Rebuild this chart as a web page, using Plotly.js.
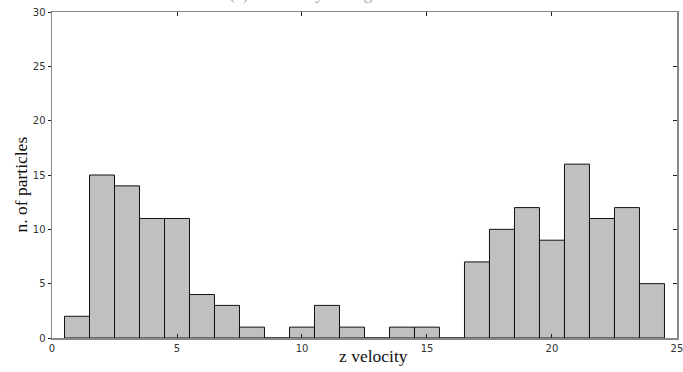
<!DOCTYPE html>
<html>
<head>
<meta charset="utf-8">
<script src="https://cdn.plot.ly/plotly-3.0.1.min.js"></script>
<style>html,body{margin:0;padding:0;background:#fff;}#chart{width:683px;height:372px;}</style>
</head>
<body>
<div id="chart"></div>
<script>
const binCenters = [1,2,3,4,5,6,7,8,9,10,11,12,13,14,15,16,17,18,19,20,21,22,23,24];
const counts     = [2,15,14,11,11,4,3,1,0,1,3,1,0,1,1,0,7,10,12,9,16,11,12,5];
const xTickVals = [0,5,10,15,20,25];
const yTickVals = [0,5,10,15,20,25,30];
const xTitle = "z velocity";
const yTitle = "n. of particles";
const chartTitle = "(a) z velocity histogram";

const trace = {
  type: 'bar', x: binCenters, y: counts, width: 1,
  marker: {color: '#c0c0c0', line: {color: '#111', width: 1}},
  hoverinfo: 'x+y'
};
const dummy = {type:'scatter', x:[0], y:[0], yaxis:'y2', mode:'markers', marker:{opacity:0}, hoverinfo:'skip', showlegend:false};

const tickFont = {family: 'DejaVu Sans', size: 10, color: '#333'};
const titleFont = {family: 'Liberation Serif', size: 17.5, color: '#111'};
const layout = {
  width: 683, height: 372,
  margin: {l: 52, r: 6, t: 12, b: 34},
  paper_bgcolor: '#fff', plot_bgcolor: '#fff',
  showlegend: false, bargap: 0,
  xaxis: {
    range: [0, 25.001], tickvals: xTickVals, ticktext: xTickVals.map(String),
    ticks: 'inside', ticklen: 4, tickcolor: '#222',
    showline: true, linecolor: '#888', linewidth: 1.5, mirror: 'ticks',
    showgrid: false, zeroline: false, tickfont: tickFont, ticklabeloverflow: 'allow'
  },
  yaxis: {
    range: [0, 30], tickvals: yTickVals, ticks: 'outside', ticklen: 3, tickcolor: '#222',
    showline: true, linecolor: '#888', linewidth: 1.5, mirror: true,
    showgrid: false, zeroline: false, tickfont: tickFont
  },
  yaxis2: {
    range: [0, 30], tickvals: yTickVals, overlaying: 'y', side: 'right',
    ticks: 'inside', ticklen: 4, tickcolor: '#222', showticklabels: false,
    showgrid: false, zeroline: false, showline: false
  },
  annotations: [
    {text: chartTitle, xref: 'paper', yref: 'paper', x: 0.42, y: 1.058,
     xanchor: 'center', yanchor: 'middle', showarrow: false,
     font: {family: 'Liberation Serif', size: 18, color: '#aaa'}},
    {text: xTitle, xref: 'paper', yref: 'paper', x: 0.515, y: -0.055,
     xanchor: 'center', yanchor: 'middle', showarrow: false, font: titleFont},
    {text: yTitle, xref: 'paper', yref: 'paper', x: -0.05, y: 0.47, textangle: -90,
     xanchor: 'center', yanchor: 'middle', showarrow: false, font: titleFont}
  ]
};
Plotly.newPlot('chart', [trace, dummy], layout, {displayModeBar: false, staticPlot: true});
</script>
</body>
</html>
